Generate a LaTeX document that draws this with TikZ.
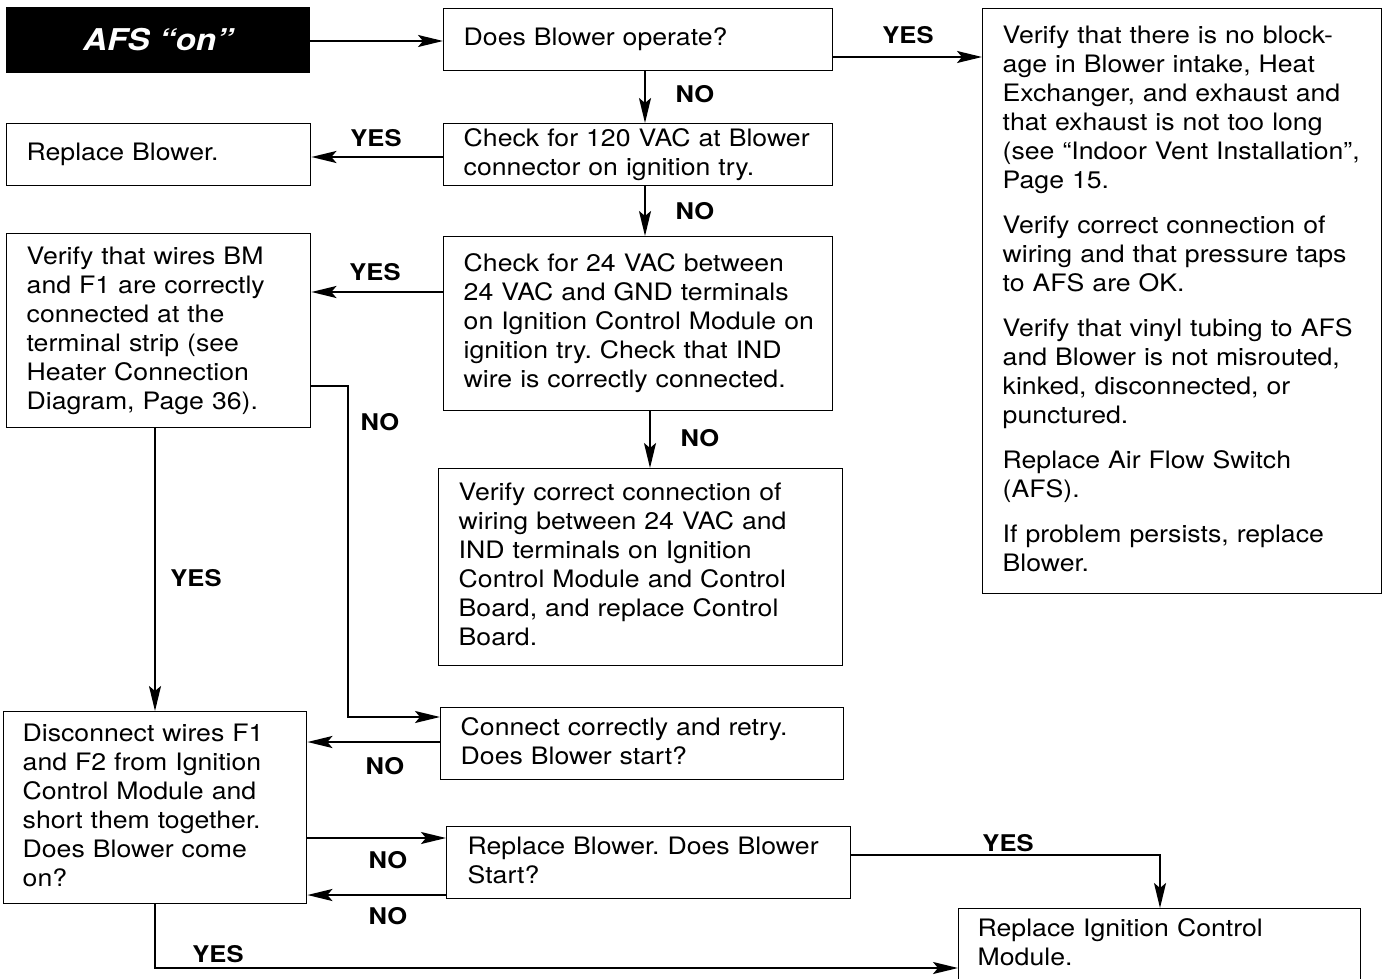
\documentclass[tikz,border=0pt]{standalone}
\usepackage{fontspec}
\setmainfont[FakeStretch=1.11]{TeX Gyre Heros}
\usetikzlibrary{arrows.meta}
\newcommand\tx[1]{\begin{tabular}{@{}l@{}}#1\end{tabular}}
\frenchspacing
\begin{document}
\begin{tikzpicture}[x=1pt,y=-1pt,
  box/.style={draw, line width=1.4pt, anchor=north west, inner xsep=20pt, inner ysep=0pt,
    align=left, font=\fontsize{24}{29}\selectfont\frenchspacing},
  afsbox/.style={fill=black, text=white, minimum width=304pt, minimum height=66pt, inner sep=0pt,
    font=\fontsize{30}{34}\selectfont\bfseries\itshape},
  arr/.style={line width=2pt, -{Stealth[length=25pt,width=12pt,inset=5pt]}},
  lab/.style={font=\fontsize{23}{27}\selectfont\bfseries, inner sep=0pt}]
\useasboundingbox (0,0) rectangle (1383,979);

\node[afsbox] (afs) at (158,40) {AFS “on”};
\node[box, text width=349pt, minimum height=62pt] (b1) at (443,8) {\tx{Does Blower operate?}};
\node[box, text width=359pt, minimum height=585pt] (r) at (982,8) {\tx{Verify that there is no block-\\age in Blower intake, Heat\\Exchanger, and exhaust and\\that exhaust is not too long\\(see “Indoor Vent Installation”,\\Page 15.\\[16pt] Verify correct connection of\\wiring and that pressure taps\\to AFS are OK.\\[16pt] Verify that vinyl tubing to AFS\\and Blower is not misrouted,\\kinked, disconnected, or\\punctured.\\[16pt] Replace Air Flow Switch\\(AFS).\\[16pt] If problem persists, replace\\Blower.}};
\node[box, text width=349pt, minimum height=62pt] (c120) at (443,123) {\tx{Check for 120 VAC at Blower\\connector on ignition try.}};
\node[box, text width=264pt, minimum height=62pt] (rb) at (6,123) {\tx{Replace Blower.}};
\node[box, text width=349pt, minimum height=174pt] (c24) at (443,236) {\tx{Check for 24 VAC between\\24 VAC and GND terminals\\on Ignition Control Module on\\ignition try. Check that IND\\wire is correctly connected.}};
\node[box, text width=264pt, minimum height=194pt] (vw) at (6,233) {\tx{Verify that wires BM\\and F1 are correctly\\connected at the\\terminal strip (see\\Heater Connection\\Diagram, Page 36).}};
\node[box, text width=364pt, minimum height=197pt] (vc) at (438,468) {\tx{Verify correct connection of\\wiring between 24 VAC and\\IND terminals on Ignition\\Control Module and Control\\Board, and replace Control\\Board.}};
\node[box, text width=363pt, minimum height=72pt] (cc) at (440,707) {\tx{Connect correctly and retry.\\Does Blower start?}};
\node[box, text width=265pt, inner xsep=19pt, minimum height=192pt] (dw) at (3,711) {\tx{Disconnect wires F1\\and F2 from Ignition\\Control Module and\\short them together.\\Does Blower come\\on?}};
\node[box, text width=362pt, inner xsep=21pt, minimum height=72pt] (rbs) at (446,826) {\tx{Replace Blower. Does Blower\\Start?}};
\node[box, text width=364pt, inner xsep=19pt, minimum height=72pt] (ric) at (958,908) {\tx{Replace Ignition Control\\Module.}};

\coordinate (k1) at (348,386);
\coordinate (k2) at (348,717);
\coordinate (k3) at (1160,855);
\coordinate (k4) at (155,968);

\draw[arr] (afs.east |- 0,41) -- (b1.west |- 0,41);
\draw[arr] (b1.east |- 0,57) -- (r.west |- 0,57);
\draw[arr] (b1.south -| 645,0) -- (c120.north -| 645,0);
\draw[arr] (c120.west |- 0,157) -- (rb.east |- 0,157);
\draw[arr] (c120.south -| 645,0) -- (c24.north -| 645,0);
\draw[arr] (c24.west |- 0,292) -- (vw.east |- 0,292);
\draw[arr] (vw.east |- k1) -- (k1) -- (k2) -- (cc.west |- k2);
\draw[arr] (c24.south -| 650,0) -- (vc.north -| 650,0);
\draw[arr] (vw.south -| 155,0) -- (dw.north -| 155,0);
\draw[arr] (cc.west |- 0,742) -- (dw.east |- 0,742);
\draw[arr] (dw.east |- 0,838) -- (rbs.west |- 0,838);
\draw[arr] (rbs.west |- 0,895) -- (dw.east |- 0,895);
\draw[arr] (rbs.east |- k3) -- (k3) -- (ric.north -| k3);
\draw[arr] (dw.south -| k4) -- (k4) -- (ric.west |- k4);

\node[lab] (l1) at (908,35) {YES};
\node[lab] (l2) at (695,94) {NO};
\node[lab] (l3) at (376,138) {YES};
\node[lab] (l4) at (695,211) {NO};
\node[lab] (l5) at (375,272) {YES};
\node[lab] (l6) at (380,422) {NO};
\node[lab] (l7) at (700,438) {NO};
\node[lab] (l8) at (196,578) {YES};
\node[lab] (l9) at (385,766) {NO};
\node[lab] (l10) at (1008,843) {YES};
\node[lab] (l11) at (388,860) {NO};
\node[lab] (l12) at (388,916) {NO};
\node[lab] (l13) at (218,954) {YES};
\end{tikzpicture}
\end{document}
